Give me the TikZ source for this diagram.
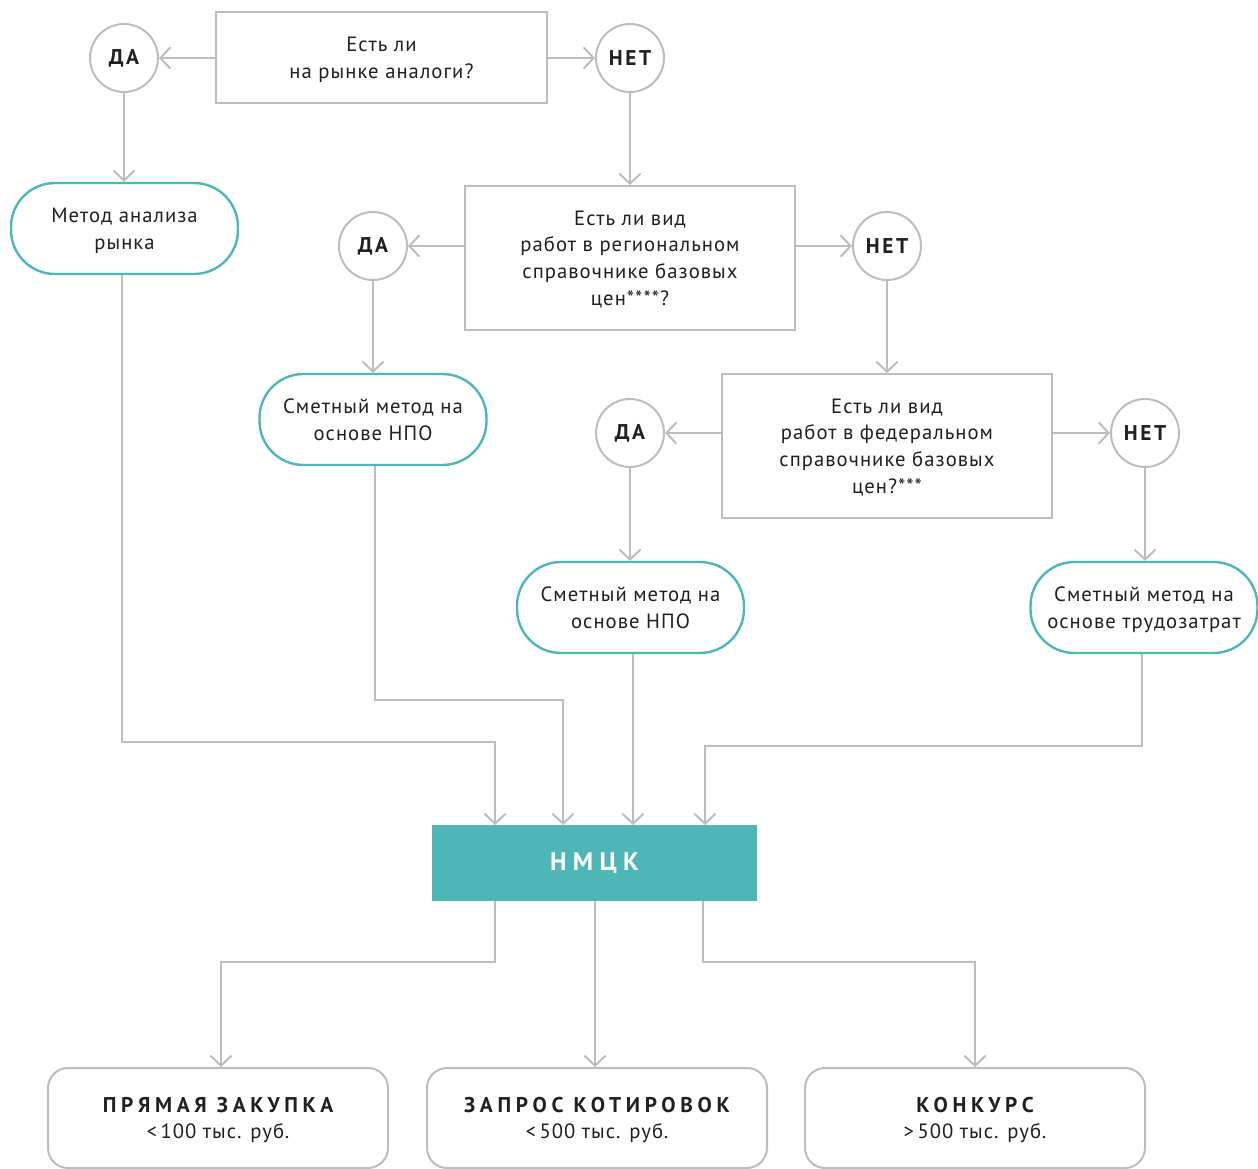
\documentclass[tikz,border=0pt]{standalone}
\usepackage{fontspec}
\setmainfont{PT Sans}
\newfontfamily\regsp[LetterSpace=5]{PT Sans}
\newfontfamily\boldsp[LetterSpace=12]{PT Sans Bold}
\newfontfamily\boldtitle[LetterSpace=22]{PT Sans Bold}
\newfontfamily\boldwide[LetterSpace=25]{PT Sans Bold}
\usetikzlibrary{arrows.meta}
\definecolor{gr}{HTML}{BDBDBF}
\definecolor{tl}{HTML}{4FB6B8}
\definecolor{tx}{HTML}{231F20}
\begin{document}
\begin{tikzpicture}[x=0.75pt,y=-0.75pt,
  every node/.style={text=tx, inner sep=0pt},
  qbox/.style={draw=gr, line width=1.5pt, fill=white, align=center, text depth=0pt,
    font=\regsp\fontsize{15.5}{20}\selectfont},
  ans/.style={draw=gr, circle, line width=1.5pt, minimum size=51pt, fill=white,
    font=\boldsp\fontsize{16}{18}\selectfont},
  meth/.style={draw=tl, line width=1.8pt, rounded corners=33pt, minimum width=170.25pt,
    minimum height=68.25pt, align=center, fill=white, text depth=0pt,
    font=\regsp\fontsize{15.5}{20}\selectfont},
  res/.style={draw=gr, line width=1.5pt, rounded corners=15pt, minimum width=255pt,
    minimum height=75pt, align=center, fill=white, text depth=0pt,
    font=\regsp\fontsize{15.5}{20}\selectfont},
  arr/.style={draw=gr, line width=1.5pt, -{Straight Barb[length=7.5pt,width=16pt,line width=1.5pt]}},
  ln/.style={draw=gr, line width=1.5pt}
]
\useasboundingbox (0,0) rectangle (1258,1169);
% question boxes
\node[qbox, minimum width=248.25pt, minimum height=68.25pt] (q1) at (381.5,57.5) {Есть ли\\на рынке аналоги?};
\node[qbox, minimum width=247.5pt, minimum height=108pt] (q2) at (630,258) {Есть ли вид\\работ в региональном\\справочнике базовых\\цен****?};
\node[qbox, minimum width=247.5pt, minimum height=108pt] (q3) at (887,446) {Есть ли вид\\работ в федеральном\\справочнике базовых\\цен?***};
% answers
\node[ans] (da1) at (124,58) {ДА};
\node[ans] (net1) at (630,58) {НЕТ};
\node[ans] (da2) at (373,246) {ДА};
\node[ans] (net2) at (887,246) {НЕТ};
\node[ans] (da3) at (630,433) {ДА};
\node[ans] (net3) at (1145,433) {НЕТ};
% methods
\node[meth] (m1) at (124.5,228.5) {Метод анализа\\рынка};
\node[meth] (m2) at (373,419.5) {Сметный метод на\\основе НПО};
\node[meth] (m3) at (630.5,607.5) {Сметный метод на\\основе НПО};
\node[meth] (m4) at (1144,607.5) {Сметный метод на\\основе трудозатрат};
% NMCK
\node[fill=tl, minimum width=243.75pt, minimum height=57pt, text=white,
  font=\boldwide\fontsize{19}{20}\selectfont] (nm) at (594.5,863) {НМЦК};
% results
\node[res] (r1) at (218,1118) {{\boldtitle\fontsize{16}{20}\selectfont ПРЯМАЯ ЗАКУПКА}\\<\,100 тыс. руб.};
\node[res] (r2) at (597,1118) {{\boldtitle\fontsize{16}{20}\selectfont ЗАПРОС КОТИРОВОК}\\<\,500 тыс. руб.};
\node[res] (r3) at (975,1118) {{\boldtitle\fontsize{16}{20}\selectfont КОНКУРС}\\>\,500 тыс. руб.};
% coordinates on NMCK
\coordinate (in1) at (495,825);
\coordinate (in2) at (563,825);
\coordinate (in3) at (633,825);
\coordinate (in4) at (705,825);
\coordinate (out1) at (495,901);
\coordinate (out2) at (595,901);
\coordinate (out3) at (703,901);
% connectors
\draw[arr] (q1.west |- da1) -- (da1);
\draw[arr] (q1.east |- net1) -- (net1);
\draw[arr] (da1) -- (da1 |- m1.north);
\draw[arr] (net1) -- (q2.north);
\draw[arr] (q2.west |- da2) -- (da2);
\draw[arr] (q2.east |- net2) -- (net2);
\draw[arr] (da2) -- (da2 |- m2.north);
\draw[arr] (net2) -- (q3.north);
\draw[arr] (q3.west |- da3) -- (da3);
\draw[arr] (q3.east |- net3) -- (net3);
\draw[arr] (da3) -- (da3 |- m3.north);
\draw[arr] (net3) -- (net3 |- m4.north);
\draw[arr] (m1.south -| 122,0) -- (122,742) -| (in1);
\draw[arr] (m2.south -| 375,0) -- (375,700) -| (in2);
\draw[arr] (m3.south -| in3) -- (in3);
\draw[arr] (m4.south -| 1142,0) -- (1142,746) -| (in4);
\draw[arr] (out1) -- (495,962) -| (r1.north -| 221,0);
\draw[arr] (out2) -- (r2.north -| out2);
\draw[arr] (out3) -- (703,962) -| (r3.north);
\end{tikzpicture}
\end{document}
